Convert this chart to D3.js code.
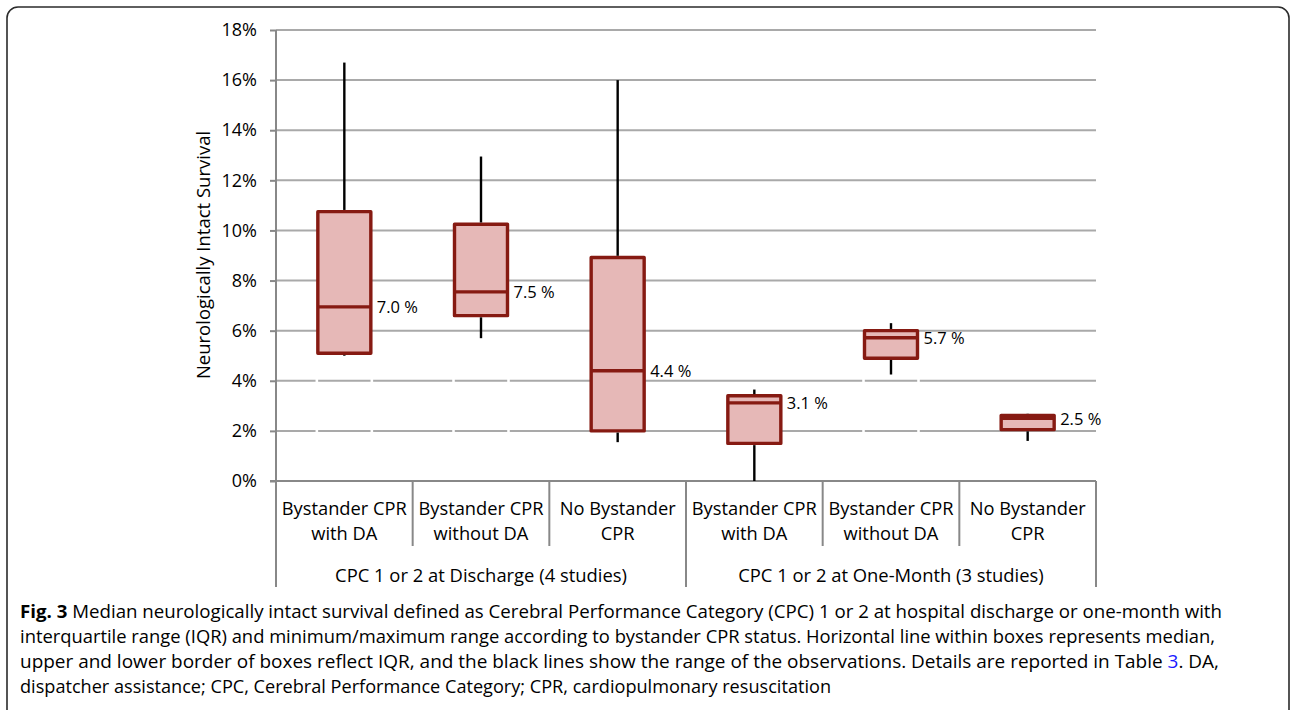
<!DOCTYPE html>
<html>
<head>
<meta charset="utf-8">
<script src="https://cdn.jsdelivr.net/npm/d3@7"></script>
<style>
  html, body { margin: 0; padding: 0; background: #fff; }
  svg { display: block; }
  text { font-family: "Open Sans", "DejaVu Sans", sans-serif; fill: #000; }
</style>
</head>
<body>
<svg id="chart" width="1292" height="710"></svg>
<script>
// ---- data (values in %) ----
const categories = [
  ["Bystander CPR", "with DA"],
  ["Bystander CPR", "without DA"],
  ["No Bystander", "CPR"],
  ["Bystander CPR", "with DA"],
  ["Bystander CPR", "without DA"],
  ["No Bystander", "CPR"]
];
const groups = ["CPC 1 or 2 at Discharge (4 studies)", "CPC 1 or 2 at One-Month (3 studies)"];
const groupSizes = [3, 3];
const minVals    = [5.0, 5.7, 1.55, 0.0, 4.25, 1.6];
const q1Vals     = [5.1, 6.6, 2.0, 1.5, 4.9, 2.05];
const medianVals = [6.95, 7.55, 4.4, 3.12, 5.72, 2.5];
const q3Vals     = [10.75, 10.25, 8.92, 3.4, 6.0, 2.62];
const maxVals    = [16.7, 12.95, 16.0, 3.65, 6.3, 2.68];
const medianLabels = ["7.0 %", "7.5 %", "4.4 %", "3.1 %", "5.7 %", "2.5 %"];
const yTicks = [0, 2, 4, 6, 8, 10, 12, 14, 16, 18];
const yTitle = "Neurologically Intact Survival";
const captionLines = [
  [{t: "Fig. 3", b: true}, {t: " Median neurologically intact survival defined as Cerebral Performance Category (CPC) 1 or 2 at hospital discharge or one-month with"}],
  [{t: "interquartile range (IQR) and minimum/maximum range according to bystander CPR status. Horizontal line within boxes represents median,"}],
  [{t: "upper and lower border of boxes reflect IQR, and the black lines show the range of the observations. Details are reported in Table "}, {t: "3", c: "#1a1aff"}, {t: ". DA,"}],
  [{t: "dispatcher assistance; CPC, Cerebral Performance Category; CPR, cardiopulmonary resuscitation"}]
];
const captionWidths = [1202, 1195, 1199, 811];

(function draw() {
const svg = d3.select("#chart");
const pLeft = 276, pRight = 1096, pTop = 30, pBottom = 481;

svg.append("rect")
  .attr("x", 7).attr("y", 7).attr("width", 1282).attr("height", 740)
  .attr("rx", 11).attr("fill", "none").attr("stroke", "#2b2b2b").attr("stroke-width", 1.6);

const idx = d3.range(categories.length);
const x = d3.scaleBand().domain(idx).range([pLeft, pRight]).padding(0);
const y = d3.scaleLinear().domain([0, 18]).range([pBottom, pTop]);
const boxW = 53;

// gridlines
svg.append("g").selectAll("line").data(yTicks.filter(d => d > 0)).join("line")
  .attr("x1", pLeft).attr("x2", pRight)
  .attr("y1", d => y(d)).attr("y2", d => y(d))
  .attr("stroke", "#a9a9a9").attr("stroke-width", 2);

// white gaps (borders of invisible base bars) from 0 to min
const gapG = svg.append("g");
idx.forEach(i => {
  if (minVals[i] <= 0) return;
  const cx = x(i) + x.bandwidth() / 2;
  [cx - boxW / 2 - 1, cx + boxW / 2 + 1].forEach(gx => {
    gapG.append("line")
      .attr("x1", gx).attr("x2", gx)
      .attr("y1", y(0) - 2).attr("y2", y(minVals[i]))
      .attr("stroke", "#fff").attr("stroke-width", 2.6);
  });
});

// y axis
const yAxis = d3.axisLeft(y).tickValues(yTicks).tickFormat(d => d + "%").tickSize(6).tickPadding(13);
const ya = svg.append("g").attr("transform", `translate(${pLeft},0)`).call(yAxis);
ya.select(".domain").remove();
ya.selectAll(".tick line").attr("stroke", "#888").attr("stroke-width", 2);
ya.selectAll(".tick text").attr("font-size", 18).attr("font-family", "Open Sans").attr("fill", "#000");

// axis lines
svg.append("line").attr("x1", pLeft).attr("x2", pLeft).attr("y1", pTop).attr("y2", 587)
  .attr("stroke", "#888").attr("stroke-width", 2);
svg.append("line").attr("x1", pLeft - 6).attr("x2", pRight).attr("y1", pBottom).attr("y2", pBottom)
  .attr("stroke", "#888").attr("stroke-width", 2);

// category separators
const groupEdges = [0];
groupSizes.reduce((acc, s) => { groupEdges.push(acc + s); return acc + s; }, 0);
d3.range(1, categories.length + 1).forEach(k => {
  const xx = k < categories.length ? x(k) : pRight;
  const isGroup = groupEdges.includes(k);
  svg.append("line").attr("x1", xx).attr("x2", xx).attr("y1", pBottom)
    .attr("y2", isGroup ? 587 : 546)
    .attr("stroke", "#888").attr("stroke-width", 2);
});

// category labels
idx.forEach(i => {
  const cx = x(i) + x.bandwidth() / 2;
  const t = svg.append("text").attr("text-anchor", "middle").attr("font-size", 18.3);
  categories[i].forEach((ln, j) => {
    t.append("tspan").attr("x", cx).attr("y", 515 + j * 25).text(ln);
  });
});
// group labels
groups.forEach((g, gi) => {
  const x0 = gi === 0 ? pLeft : x(groupEdges[gi]);
  const x1 = groupEdges[gi + 1] < categories.length ? x(groupEdges[gi + 1]) : pRight;
  svg.append("text").attr("x", (x0 + x1) / 2).attr("y", 582)
    .attr("text-anchor", "middle").attr("font-size", 18.4).text(g);
});

// y title
svg.append("text")
  .attr("transform", `translate(210,255) rotate(-90)`)
  .attr("text-anchor", "middle").attr("font-size", 18.5).text(yTitle);

// boxes
const boxColor = "#861a12", fillColor = "#e6b8b7";
const bg = svg.append("g");
idx.forEach(i => {
  const cx = x(i) + x.bandwidth() / 2;
  bg.append("rect")
    .attr("x", cx - boxW / 2).attr("width", boxW)
    .attr("y", y(q3Vals[i])).attr("height", y(q1Vals[i]) - y(q3Vals[i]))
    .attr("fill", fillColor).attr("stroke", boxColor).attr("stroke-width", 3.4)
    .attr("stroke-linejoin", "round");
  bg.append("line")
    .attr("x1", cx - boxW / 2).attr("x2", cx + boxW / 2)
    .attr("y1", y(medianVals[i])).attr("y2", y(medianVals[i]))
    .attr("stroke", boxColor).attr("stroke-width", 3.4);
  bg.append("line").attr("x1", cx).attr("x2", cx)
    .attr("y1", y(q3Vals[i]) - 1.7).attr("y2", y(maxVals[i]))
    .attr("stroke", "#000").attr("stroke-width", 2.4);
  bg.append("line").attr("x1", cx).attr("x2", cx)
    .attr("y1", y(q1Vals[i]) + 1.7).attr("y2", y(minVals[i]))
    .attr("stroke", "#000").attr("stroke-width", 2.4);
  bg.append("text")
    .attr("x", cx + boxW / 2 + 6).attr("y", y(medianVals[i]))
    .attr("dominant-baseline", "central").attr("font-size", 16.5)
    .text(medianLabels[i]);
});

// caption
captionLines.forEach((parts, li) => {
  const t = svg.append("text").attr("x", 20).attr("y", 618 + li * 25)
    .attr("font-size", 18.5).attr("fill", "#222")
    .attr("textLength", captionWidths[li]).attr("lengthAdjust", "spacingAndGlyphs");
  parts.forEach(p => {
    const ts = t.append("tspan").text(p.t);
    if (p.b) ts.attr("font-weight", "bold");
    if (p.c) ts.attr("fill", p.c);
  });
});
})();
</script>
</body>
</html>
